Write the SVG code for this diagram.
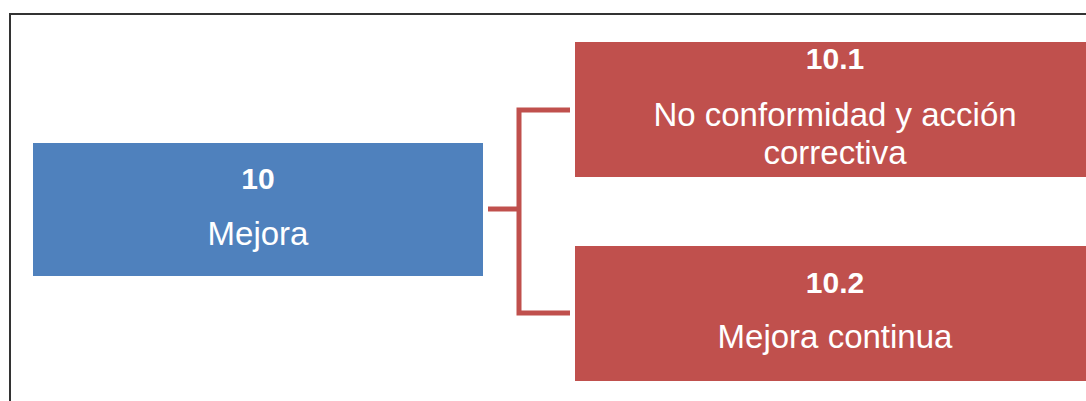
<svg xmlns="http://www.w3.org/2000/svg" width="1086" height="401" viewBox="0 0 1086 401">
<style>
.t{font-family:"Liberation Sans",Arial,sans-serif;fill:#fff;text-anchor:middle;font-size:33px}
.b{font-weight:bold;font-size:30px}
.blue{fill:#4F81BD}
.red{fill:#C0504D}
.conn{fill:none;stroke:#C0504D;stroke-width:5}
</style>
<rect x="0" y="0" width="1086" height="401" fill="#fff"/>
<path d="M10,401 V14 H1086" fill="none" stroke="#333" stroke-width="2"/>
<g id="connectors">
<path class="conn" d="M488,209 H519"/>
<path class="conn" d="M570,110 H519 V313 H570"/>
</g>
<g id="n10">
<rect class="blue" x="33" y="143" width="450" height="133"/>
<text class="t b" x="258" y="189">10</text>
<text class="t" x="258" y="245">Mejora</text>
</g>
<g id="n10_1">
<rect class="red" x="575" y="42" width="520" height="135"/>
<text class="t b" x="835" y="69">10.1</text>
<text class="t" x="835" y="126">No conformidad y acción</text>
<text class="t" x="835" y="164">correctiva</text>
</g>
<g id="n10_2">
<rect class="red" x="575" y="246" width="520" height="135"/>
<text class="t b" x="835" y="293">10.2</text>
<text class="t" x="835" y="348">Mejora continua</text>
</g>
</svg>
